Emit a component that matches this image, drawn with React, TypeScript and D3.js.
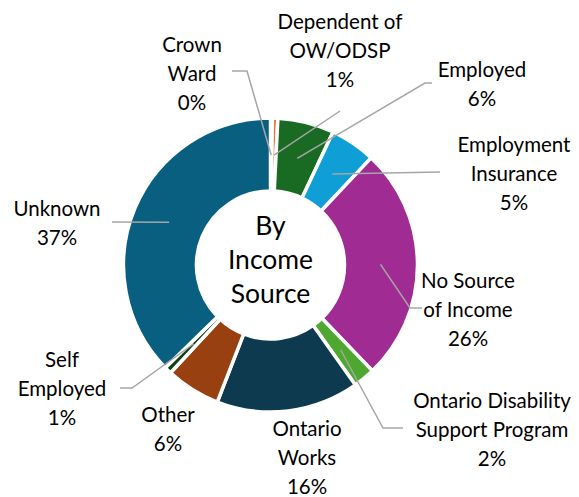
import React from "react";
import * as d3 from "d3";

const categories = [
  "Crown Ward",
  "Dependent of OW/ODSP",
  "Employed",
  "Employment Insurance",
  "No Source of Income",
  "Ontario Disability Support Program",
  "Ontario Works",
  "Other",
  "Self Employed",
  "Unknown",
];
const values = [0.2, 0.6, 6.2, 5.0, 25.8, 2.4, 15.7, 6.0, 0.8, 37.3];
const labelLines = [
  ["Crown", "Ward"],
  ["Dependent of", "OW/ODSP"],
  ["Employed"],
  ["Employment", "Insurance"],
  ["No Source", "of Income"],
  ["Ontario Disability", "Support Program"],
  ["Ontario", "Works"],
  ["Other"],
  ["Self", "Employed"],
  ["Unknown"],
];
const colors = [
  "#156082", "#E97132", "#196B24", "#0F9ED5", "#A02B93",
  "#4EA72E", "#0D3A4E", "#984010", "#0F4016", "#095F80",
];
const centerTitle = ["By", "Income", "Source"];

// layout of labels (center x, first baseline) and leader bends
const labelLayout: { cx: number; y: number; leader: [number, number][] | null }[] = [
  { cx: 192, y: 52, leader: [[232, 71], [247, 71]] },
  { cx: 340, y: 29, leader: [[340, 111]] },
  { cx: 482, y: 77, leader: [[432, 83], [425, 83]] },
  { cx: 514, y: 152, leader: [[440, 172]] },
  { cx: 468, y: 288, leader: [[422, 308], [410, 308]] },
  { cx: 492, y: 408, leader: [[403, 428], [383, 428]] },
  { cx: 307, y: 436, leader: null },
  { cx: 168, y: 422, leader: null },
  { cx: 62, y: 367, leader: [[120, 388], [132, 388]] },
  { cx: 57, y: 216, leader: [[112, 222]] },
];

const W = 579;
const H = 497;
const CX = 270.5;
const CY = 265;
const R_OUT = 147;
const R_IN = 74;
const FONT = "Lato, 'Open Sans', sans-serif";
const LINE = 29;

export default function App() {
  const data = categories.map((c, i) => ({ c, v: values[i], i }));
  const pie = d3.pie<any>().value((d) => d.v).sort(null);
  const arcs = pie(data);
  const arc = d3.arc<any>().innerRadius(R_IN).outerRadius(R_OUT);
  const total = d3.sum(values);
  const leaderR = 110;
  const line = d3.line();

  return (
    <svg
      width={W}
      height={H}
      style={{ position: "absolute", left: 0, top: 0, background: "#fff" }}
    >
      <g transform={`translate(${CX},${CY})`}>
        {arcs.map((a, i) => (
          <path
            key={i}
            d={arc(a) as string}
            fill={colors[i]}
            stroke="#fff"
            strokeWidth={3.5}
            strokeLinejoin="round"
          />
        ))}
      </g>
      {arcs.map((a, i) => {
        const L = labelLayout[i];
        if (!L.leader) return null;
        const mid = (a.startAngle + a.endAngle) / 2;
        const ex = CX + Math.sin(mid) * leaderR;
        const ey = CY - Math.cos(mid) * leaderR;
        const pts: [number, number][] = [...L.leader, [ex, ey]];
        return (
          <path
            key={"l" + i}
            d={line(pts) as string}
            fill="none"
            stroke="#A6A6A6"
            strokeWidth={1.5}
          />
        );
      })}
      {arcs.map((a, i) => {
        const L = labelLayout[i];
        const pct = Math.round((values[i] / total) * 100) + "%";
        const lines = [...labelLines[i], pct];
        return (
          <text
            key={"t" + i}
            textAnchor="middle"
            fontFamily={FONT}
            fontSize={20.5}
            fill="#000"
          >
            {lines.map((s, k) => (
              <tspan key={k} x={L.cx} y={L.y + k * LINE}>
                {s}
              </tspan>
            ))}
          </text>
        );
      })}
      <text textAnchor="middle" fontFamily={FONT} fontSize={26.5} fill="#000">
        {centerTitle.map((s, k) => (
          <tspan key={k} x={CX} y={235 + k * 34}>
            {s}
          </tspan>
        ))}
      </text>
    </svg>
  );
}
